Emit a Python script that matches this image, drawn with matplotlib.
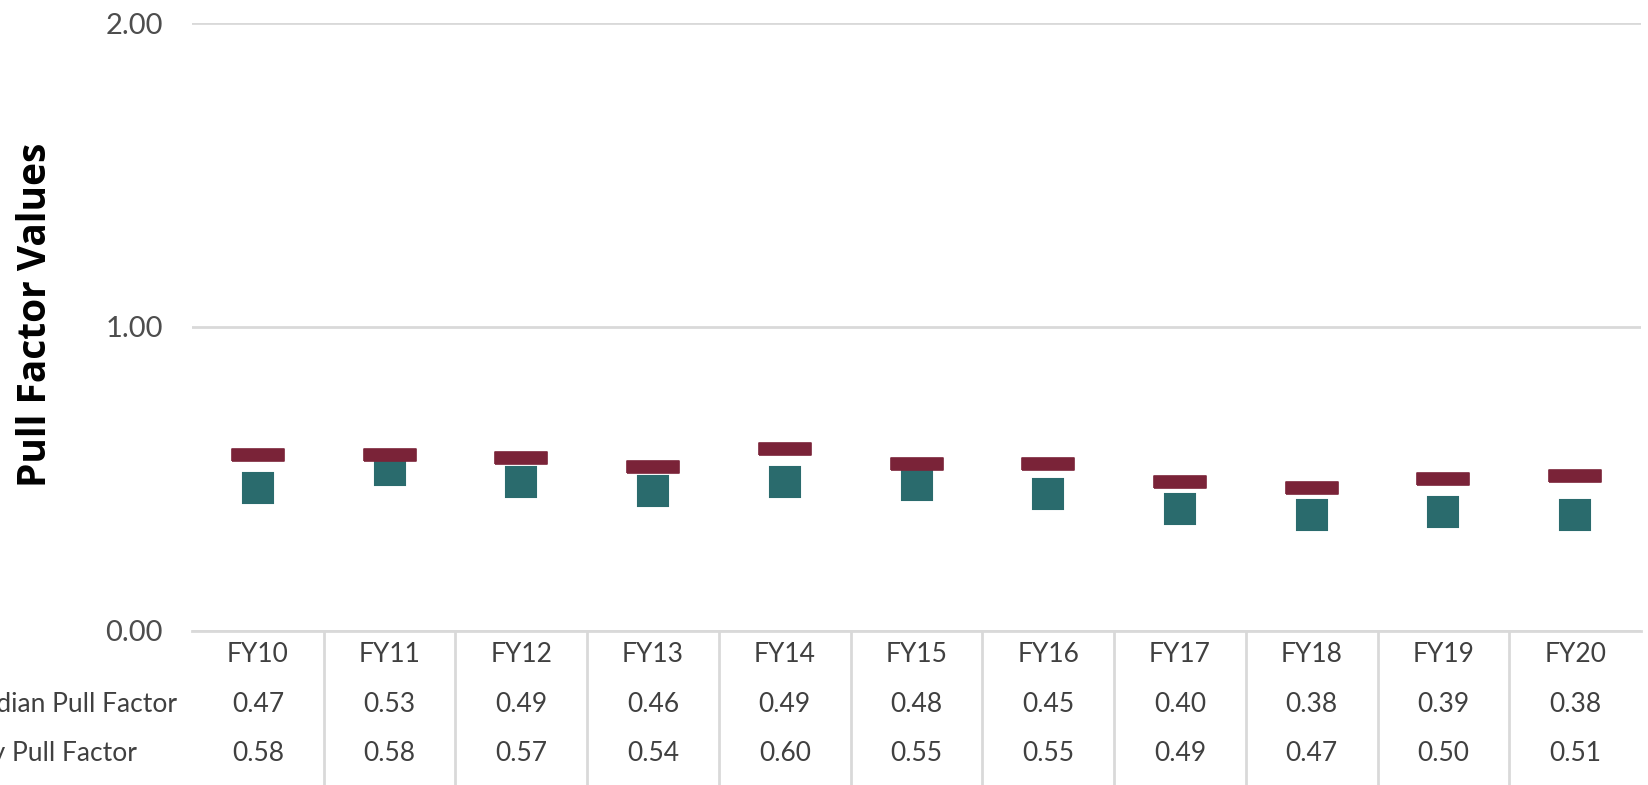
import matplotlib
matplotlib.use("Agg")
import matplotlib.pyplot as plt
import matplotlib.transforms as mtransforms

# Data
years = ["FY10", "FY11", "FY12", "FY13", "FY14", "FY15", "FY16", "FY17", "FY18", "FY19", "FY20"]
median_pull = [0.47, 0.53, 0.49, 0.46, 0.49, 0.48, 0.45, 0.40, 0.38, 0.39, 0.38]
county_pull = [0.58, 0.58, 0.57, 0.54, 0.60, 0.55, 0.55, 0.49, 0.47, 0.50, 0.51]
row_labels = ["Median Pull Factor", "City Pull Factor"]
y_ticks = [0.0, 1.0, 2.0]

maroon = "#7A2338"
teal = "#2A6B6D"
grid_grey = "#D9D9D9"
text_grey = "#404040"

plt.rcParams['font.family'] = ['Lato', 'DejaVu Sans']

fig = plt.figure(figsize=(16.48, 7.85), dpi=100)
ax = fig.add_axes([0.1165, 0.1962, 0.8793, 0.7745])

x = list(range(len(years)))

# teal squares (median) and maroon dashes (city)
ax.plot(x, median_pull, linestyle="none", marker="s", markersize=21,
        color=teal, markeredgecolor=teal, markeredgewidth=1.5, zorder=3)
dash = [(-2.05, -0.5), (2.05, -0.5), (2.05, 0.5), (-2.05, 0.5), (-2.05, -0.5)]
ax.plot(x, county_pull, linestyle="none", marker=dash, markersize=37,
        color=maroon, markeredgecolor=maroon, markeredgewidth=1.2, zorder=4)

ax.set_xlim(-0.5, len(years) - 0.5)
ax.set_ylim(0, 2)
ax.set_yticks(y_ticks)
ax.set_yticklabels([f"{v:.2f}" for v in y_ticks], fontsize=21, color="#4D4D4D")
ax.tick_params(axis="y", length=0, pad=21)
ax.set_xticks([])
ax.grid(axis="y", color=grid_grey, linewidth=2)
ax.set_axisbelow(True)
for side in ["top", "right", "left"]:
    ax.spines[side].set_visible(False)
ax.spines["bottom"].set_color(grid_grey)
ax.spines["bottom"].set_linewidth(2)

ax.set_ylabel("Pull Factor Values", fontsize=28, fontweight="bold", color="black",
              family=["Open Sans", "DejaVu Sans"], va="center")
ax.yaxis.set_label_coords(-0.108, 0.52)

# data table under the axis
trans = mtransforms.blended_transform_factory(ax.transData, ax.transAxes)
row_y = [-0.0395, -0.121, -0.2007]
for i, yr in enumerate(years):
    ax.text(i, row_y[0], yr, transform=trans, ha="center", va="center",
            fontsize=19, color=text_grey)
    ax.text(i, row_y[1], f"{median_pull[i]:.2f}", transform=trans, ha="center",
            va="center", fontsize=19, color=text_grey)
    ax.text(i, row_y[2], f"{county_pull[i]:.2f}", transform=trans, ha="center",
            va="center", fontsize=19, color=text_grey)

# row headers are left aligned and run off the left edge, as in the source
label_trans = mtransforms.blended_transform_factory(fig.transFigure, ax.transAxes)
for label, yy in zip(row_labels, row_y[1:]):
    ax.text(-0.0255, yy, label, transform=label_trans, ha="left", va="center",
            fontsize=19, color=text_grey)

for i in range(1, len(years)):
    ax.plot([i - 0.5, i - 0.5], [0, -0.26], transform=trans, color=grid_grey,
            linewidth=2, clip_on=False)

fig.savefig("out.png", dpi=100)
